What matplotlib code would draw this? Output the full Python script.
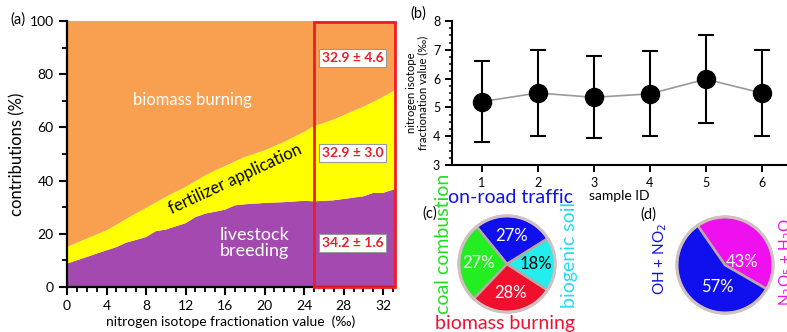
import matplotlib
matplotlib.use("Agg")
import matplotlib.pyplot as plt
from matplotlib.ticker import MultipleLocator
import numpy as np

plt.rcParams['font.family'] = ['Lato', 'DejaVu Sans']

# ---------------- data ----------------
# panel (a)
frac_x = [0, 2, 4, 5, 6, 7, 8, 9, 10, 11, 12, 13, 14, 15, 16, 17, 18, 20, 22, 24,
          25, 26, 27, 28, 29, 30, 31, 32, 33.2]
livestock = [8.8, 11.3, 13.8, 15.0, 16.7, 17.7, 18.8, 21.0, 21.6, 22.8, 24.0, 26.3, 27.6,
             28.3, 29.1, 30.7, 31.1, 31.6, 31.9, 32.4, 32.2, 32.4, 32.6, 33.1, 33.6, 34.1,
             35.4, 35.4, 36.8]
fertilizer = [6.3, 6.9, 7.5, 8.4, 8.9, 10.0, 10.9, 10.8, 12.3, 13.0, 13.6, 13.5, 14.4,
              15.5, 16.4, 16.5, 17.8, 19.8, 22.7, 25.9, 28.3, 29.3, 30.4, 31.5, 32.6, 33.7,
              34.2, 36.1, 37.2]
biomass = [84.9, 81.8, 78.7, 76.6, 74.4, 72.3, 70.3, 68.2, 66.1, 64.2, 62.4, 60.2, 58.0,
           56.2, 54.5, 52.8, 51.1, 48.6, 45.4, 41.7, 39.5, 38.3, 37.0, 35.4, 33.8, 32.2,
           30.4, 28.5, 26.0]
box_labels = ["32.9 ± 4.6", "32.9 ± 3.0", "34.2 ± 1.6"]

# panel (b)
sample_id = [1, 2, 3, 4, 5, 6]
frac_mean = [5.2, 5.5, 5.35, 5.47, 5.98, 5.5]
frac_low = [3.8, 4.02, 3.93, 4.0, 4.47, 4.0]
frac_high = [6.62, 7.0, 6.78, 6.95, 7.5, 7.0]

# panel (c)
src_names = ["on-road traffic", "coal combustion", "biomass burning", "biogenic soil"]
src_values = [27, 27, 28, 18]
src_colors = ["#1010EE", "#22EE22", "#F0102E", "#22EEEE"]

# panel (d)
path_names = ["N$_2$O$_5$ + H$_2$O", "OH + NO$_2$"]
path_values = [43, 57]
path_colors = ["#EE10EE", "#1010EE"]

W, H = 787, 332
fig = plt.figure(figsize=(W / 100, H / 100), dpi=100)


def px_axes(l, t, r, b):
    return fig.add_axes([l / W, 1 - b / H, (r - l) / W, (b - t) / H])


# ---------------- panel (a) ----------------
ax = px_axes(67, 21, 395, 287)
ax.stackplot(frac_x, livestock, fertilizer, biomass,
             colors=["#A349B0", "#FFFF00", "#F8A050"], linewidth=0)
ax.set_xlim(0, 33.2)
ax.set_ylim(0, 100)
for s in ["top", "right"]:
    ax.spines[s].set_visible(False)
for s in ["left", "bottom"]:
    ax.spines[s].set_linewidth(1.6)
ax.xaxis.set_major_locator(MultipleLocator(4))
ax.xaxis.set_minor_locator(MultipleLocator(1))
ax.yaxis.set_major_locator(MultipleLocator(20))
ax.yaxis.set_minor_locator(MultipleLocator(10))
ax.tick_params(which="major", length=6, width=1.5, labelsize=10, direction="out")
ax.tick_params(which="minor", length=3.5, width=1.3, direction="out")
ax.set_ylabel("contributions (%)", fontsize=12, labelpad=3)
ax.set_xlabel("nitrogen isotope fractionation value  (‰)", fontsize=10, labelpad=2)
ax.add_patch(plt.Rectangle((25, 0), 8.15, 99.6, fill=False, edgecolor="#EE1C24",
                           linewidth=2, clip_on=False, zorder=5))
ax.text(12.66, 70.3, "biomass burning", color="white", fontsize=12, ha="center", va="center")
ax.text(17.0, 40.5, "fertilizer application", color="black", fontsize=12,
        ha="center", va="center", rotation=25)
ax.text(19.0, 16.5, "livestock\nbreeding", color="white", fontsize=13,
        ha="center", va="center", linespacing=1.0)
for yv, lab in zip([86.1, 50.4, 16.5], box_labels):
    ax.text(28.9, yv, lab, color="#E8202A", fontsize=10, fontweight="bold",
            ha="center", va="center", zorder=6,
            bbox=dict(boxstyle="square,pad=0.2", fc="white", ec="#999999", lw=0.8))
fig.text(10 / W, 1 - 20 / H, "(a)", fontsize=10.5, ha="left", va="center")

# ---------------- panel (b) ----------------
bx = px_axes(452, 21, 787, 165)
yerr = [np.subtract(frac_mean, frac_low), np.subtract(frac_high, frac_mean)]
bx.plot(sample_id, frac_mean, color="#999999", lw=1.2, zorder=1)
bx.errorbar(sample_id, frac_mean, yerr=yerr, fmt="o", color="black", ecolor="black",
            elinewidth=1.5, capsize=6, capthick=1.5, markersize=13, zorder=2)
bx.set_xlim(0.47, 6.45)
bx.set_ylim(3, 8)
for s in ["top", "right"]:
    bx.spines[s].set_visible(False)
for s in ["left", "bottom"]:
    bx.spines[s].set_linewidth(1.5)
bx.xaxis.set_major_locator(MultipleLocator(1))
bx.yaxis.set_major_locator(MultipleLocator(1))
bx.yaxis.set_minor_locator(MultipleLocator(0.25))
bx.tick_params(which="major", length=5, width=1.4, labelsize=9, direction="out")
bx.tick_params(which="minor", length=2.5, width=1.1, direction="out")
bx.set_ylabel("nitrogen isotope\nfractionation value (‰)", fontsize=8, labelpad=3,
              linespacing=1.1)
bx.set_xlabel("sample ID", fontsize=10, labelpad=1)
fig.text(410 / W, 1 - 14 / H, "(b)", fontsize=10.5, ha="left", va="center")

# ---------------- panel (c) ----------------
r = 51
cx, cy = 507, 264
pc = px_axes(cx - r, cy - r, cx + r, cy + r)
wedges, _, autotexts = pc.pie(src_values, colors=src_colors, startangle=32,
                              autopct="%d%%", pctdistance=0.6,
                              wedgeprops=dict(edgecolor="#B8A8A8", linewidth=1.8),
                              textprops=dict(color="white", fontsize=12))
autotexts[3].set_color("black")
pc.add_patch(plt.Circle((0, 0), 1.0, fill=False, edgecolor="#D0C0C0", lw=2.2))
pc.set_xlim(-1.06, 1.06)
pc.set_ylim(-1.06, 1.06)
pc.axis("off")
fig.text(422 / W, 1 - 214 / H, "(c)", fontsize=10.5, ha="left", va="center")
fig.text(511 / W, 1 - 197 / H, src_names[0], color="#1010EE", fontsize=14, ha="center", va="center")
fig.text(444 / W, 1 - 244 / H, src_names[1], color="#22DD22", fontsize=14, ha="center",
         va="center", rotation=90)
fig.text(505 / W, 1 - 323 / H, src_names[2], color="#EE1133", fontsize=14, ha="center", va="center")
fig.text(569 / W, 1 - 255 / H, src_names[3], color="#22DDEE", fontsize=14, ha="center",
         va="center", rotation=90)

# ---------------- panel (d) ----------------
dx_, dy_ = 725, 265
pdx = px_axes(dx_ - r, dy_ - r, dx_ + r, dy_ + r)
pdx.pie(path_values, colors=path_colors, startangle=-30,
        wedgeprops=dict(edgecolor="#C0A8A8", linewidth=1.8))
pdx.add_patch(plt.Circle((0, 0), 1.0, fill=False, edgecolor="#D0C0C0", lw=2.2))
pdx.text(0.36, 0.06, f"{path_values[0]}%", color="white", fontsize=12, ha="center", va="center")
pdx.text(-0.16, -0.45, f"{path_values[1]}%", color="white", fontsize=12, ha="center", va="center")
pdx.set_xlim(-1.06, 1.06)
pdx.set_ylim(-1.06, 1.06)
pdx.axis("off")
fig.text(640 / W, 1 - 215 / H, "(d)", fontsize=10.5, ha="left", va="center")
fig.text(660 / W, 1 - 259 / H, path_names[1], color="#1010EE", fontsize=11, ha="center",
         va="center", rotation=90)
fig.text(786 / W, 1 - 262 / H, path_names[0], color="#EE10EE", fontsize=11, ha="center",
         va="center", rotation=90)

fig.savefig("out.png", dpi=100)
